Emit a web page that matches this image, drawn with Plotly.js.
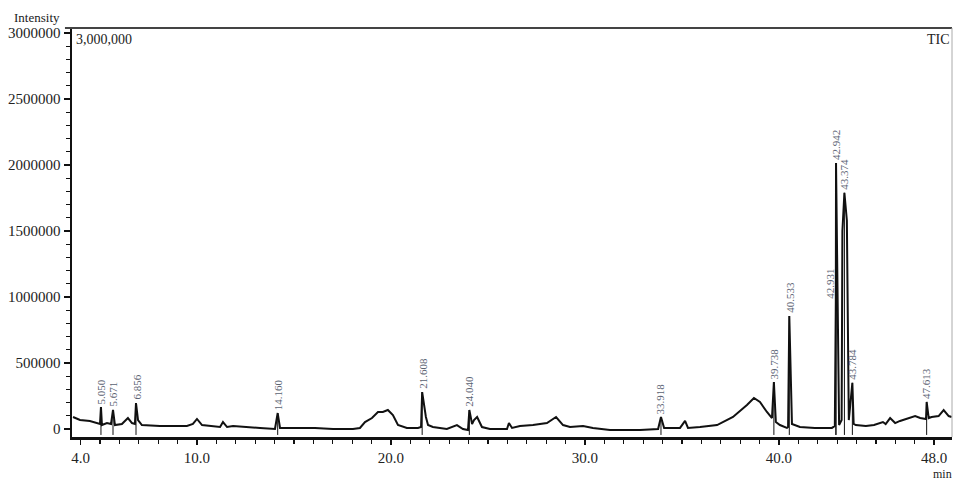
<!DOCTYPE html>
<html>
<head>
<meta charset="utf-8">
<script src="https://cdn.plot.ly/plotly-3.0.1.min.js"></script>
<style>html,body{margin:0;padding:0;background:#fff;}#chart{width:953px;height:483px;}</style>
</head>
<body>
<div id="chart"></div>
<script>
// Retention time (min) and TIC intensity
const rt = [3.61,3.97,4.48,4.90,5.00,5.050,5.10,5.36,5.57,5.671,5.77,6.13,6.44,6.65,6.80,6.856,6.96,7.16,8.09,9.48,9.79,10.00,10.26,11.19,11.34,11.55,11.86,13.25,14.02,14.160,14.28,15.31,16.08,17.01,18.04,18.40,18.66,19.02,19.33,19.58,19.84,20.10,20.36,20.82,21.39,21.55,21.608,21.80,21.91,22.16,22.88,23.40,23.71,23.97,24.040,24.18,24.28,24.44,24.69,25.10,25.98,26.08,26.24,26.65,27.32,28.04,28.51,28.87,29.23,29.90,30.41,31.29,32.84,33.77,33.918,34.08,34.90,35.16,35.31,35.93,36.81,37.63,38.35,38.71,39.02,39.38,39.64,39.738,39.84,40.05,40.41,40.47,40.533,40.67,41.08,41.85,42.73,42.88,42.931,42.942,43.10,43.23,43.27,43.374,43.50,43.60,43.784,43.85,43.96,44.48,44.90,45.36,45.50,45.73,45.99,46.24,47.02,47.28,47.58,47.613,47.72,47.87,48.23,48.49,48.75,48.90];
const intensity = [91000,68000,61000,45000,38000,167000,30000,45000,38000,144000,30000,38000,83000,45000,38000,197000,68000,30000,23000,23000,38000,76000,30000,15000,53000,15000,23000,8000,0,121000,8000,8000,8000,0,0,8000,53000,83000,129000,129000,144000,106000,30000,8000,8000,15000,280000,91000,30000,15000,0,30000,0,-8000,144000,38000,68000,91000,15000,0,0,45000,8000,23000,30000,45000,91000,30000,15000,23000,8000,-8000,-8000,0,91000,8000,8000,61000,8000,15000,30000,91000,182000,235000,205000,129000,83000,356000,53000,30000,8000,15000,856000,38000,15000,8000,8000,23000,962000,2015000,30000,68000,1500000,1790000,1580000,68000,350000,38000,30000,23000,30000,53000,38000,83000,45000,61000,98000,83000,76000,205000,83000,91000,98000,144000,98000,91000];

// Labelled peaks
const peakRT = [5.050,5.671,6.856,14.160,21.608,24.040,33.918,39.738,40.533,42.931,42.942,43.374,43.784,47.613];
const peakHeight = [167000,144000,197000,121000,280000,144000,91000,356000,856000,962000,2015000,1790000,350000,205000];
const peakLabels = ["5.050","5.671","6.856","14.160","21.608","24.040","33.918","39.738","40.533","42.931","42.942","43.374","43.784","47.613"];

// Axis ticks
const xTickVals = [4,10,20,30,40,48];
const xTickText = ["4.0","10.0","20.0","30.0","40.0","48.0"];
const yTickVals = [0,500000,1000000,1500000,2000000,2500000,3000000];
const yTickText = ["0","500000","1000000","1500000","2000000","2500000","3000000"];

const markerFloor = -45000;
const mx = [], my = [];
peakRT.forEach((t,i)=>{ mx.push(t,t,null); my.push(peakHeight[i], markerFloor, null); });

const serif = "Liberation Serif, Times New Roman, serif";

const traces = [
  {x: rt, y: intensity, type:'scatter', mode:'lines', line:{color:'#111', width:2}, hoverinfo:'skip'},
  {x: mx, y: my, type:'scatter', mode:'lines', line:{color:'#111', width:1}, hoverinfo:'skip'}
];

const annotations = peakRT.map((t,i)=>({
  x: t, y: peakHeight[i], xref:'x', yref:'y', text: peakLabels[i], textangle:-90,
  showarrow:false, yanchor:'bottom', xanchor:'center', yshift:1,
  xshift: peakLabels[i]==='42.931' ? -6 : 0,
  font:{family:serif, size:11, color:'#5a6272'}
}));
annotations.push(
  {xref:'paper', yref:'paper', x:-0.0685, y:1.0, xanchor:'left', yanchor:'bottom', yshift:1, text:'Intensity', showarrow:false, font:{family:serif, size:13, color:'#222'}},
  {xref:'paper', yref:'paper', x:0.002, y:1.0, xanchor:'left', yanchor:'top', yshift:-2, text:'3,000,000', showarrow:false, font:{family:serif, size:14, color:'#222'}},
  {xref:'paper', yref:'paper', x:1.0, y:1.0, xanchor:'right', yanchor:'top', yshift:-2, text:'TIC', showarrow:false, font:{family:serif, size:14, color:'#222'}},
  {xref:'paper', yref:'paper', x:1.002, y:-0.1115, xanchor:'right', yanchor:'bottom', text:'min', showarrow:false, font:{family:serif, size:12, color:'#222'}}
);

const layout = {
  width:953, height:483,
  margin:{l:72, r:1, t:28, b:46},
  paper_bgcolor:'#fff', plot_bgcolor:'#fff',
  showlegend:false,
  xaxis:{
    range:[3.557,48.92], showgrid:false, zeroline:false,
    showline:true, linecolor:'#111', linewidth:2.5,
    tickmode:'array', tickvals:xTickVals, ticktext:xTickText,
    ticks:'outside', ticklen:5, tickwidth:1.5, tickcolor:'#111',
    tickfont:{family:serif, size:15, color:'#222'},
    minor:{tickmode:'linear', tick0:0, dtick:1, ticks:'outside', ticklen:4, tickwidth:1.2, tickcolor:'#111'}
  },
  yaxis:{
    range:[-60600,3038000], showgrid:false, zeroline:false,
    showline:true, linecolor:'#111', linewidth:2.5,
    tickmode:'array', tickvals:yTickVals, ticktext:yTickText,
    ticks:'outside', ticklen:6, tickwidth:1.5, tickcolor:'#111',
    tickfont:{family:serif, size:15, color:'#222'},
    minor:{tickmode:'linear', tick0:0, dtick:100000, ticks:'outside', ticklen:4, tickwidth:1.2, tickcolor:'#111'}
  },
  shapes:[
    {type:'line', xref:'paper', yref:'paper', x0:-0.008, x1:1, y0:1, y1:1, line:{color:'#444', width:1.8}},
    {type:'line', xref:'paper', yref:'paper', x0:1, x1:1, y0:0, y1:1, line:{color:'#aaa', width:1}}
  ],
  annotations: annotations
};

Plotly.newPlot('chart', traces, layout, {staticPlot:true, displayModeBar:false});
</script>
</body>
</html>
